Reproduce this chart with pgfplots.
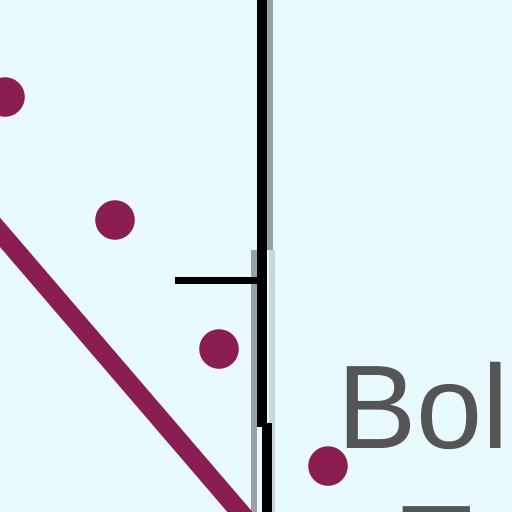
\documentclass[border=0pt]{standalone}
\usepackage{pgfplots}
\pgfplotsset{compat=1.18}
\usepackage{fontspec}
\setmainfont{Liberation Sans}
\definecolor{bgcol}{RGB}{232,250,254}
\definecolor{maroon}{RGB}{138,30,82}
\definecolor{textgray}{RGB}{85,85,85}
\definecolor{edgegray}{RGB}{150,162,165}
\definecolor{edgelight}{RGB}{200,215,218}
\begin{document}
\begin{tikzpicture}
\clip (0,0) rectangle (512pt,512pt);
\fill[bgcol] (0,0) rectangle (512pt,512pt);
\begin{axis}[
  scale only axis, width=512pt, height=512pt,
  xmin=0, xmax=512, ymin=0, ymax=512, y dir=reverse,
  axis lines=none, ticks=none, clip=false,
]
\addplot[edgegray, line width=6pt] coordinates {(270,-10) (270,250)};
\addplot[edgegray, line width=6pt] coordinates {(254,250) (254,512)};
\addplot[edgelight, line width=6pt] coordinates {(272,250) (272,512)};
\addplot[black, line width=10pt] coordinates {(262,-10) (262,427)};
\addplot[black, line width=10pt] coordinates {(267,423) (267,530)};
\addplot[black, line width=7pt] coordinates {(175,280) (262,280)};
\addplot[maroon, line width=19pt] coordinates {(-20,209) (270,547)};
\addplot[only marks, mark=*, mark size=19.5pt, color=maroon] coordinates {(5,97) (115,220) (219,349) (328,466)};
\node[anchor=base west, text=textgray, font=\fontsize{119}{119}\selectfont, inner sep=0pt] at (axis cs:337,448) {Bol};
\node[anchor=base west, text=textgray, font=\fontsize{119}{119}\selectfont, inner sep=0pt] at (axis cs:400,588) {T};
\end{axis}
\end{tikzpicture}
\end{document}
